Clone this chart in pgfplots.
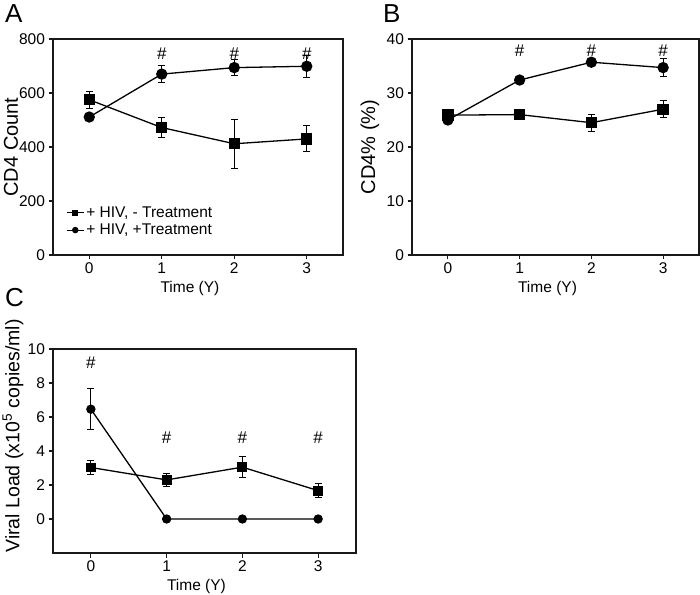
\documentclass[border=0pt]{standalone}
\usepackage{fontspec}
\setmainfont{Liberation Sans}
\usepackage{pgfplots}
\pgfplotsset{compat=1.18}
\begin{document}
\begin{tikzpicture}
\path[use as bounding box] (0,0) rectangle (700pt,594pt);
\pgfplotsset{
  panel/.style={
    scale only axis,
    axis line style={black!90, line width=1.1pt},
    tick style={black!90, line width=1.1pt},
    tick align=outside,
    major tick length=4.5pt,
    tick pos=left,
    xmin=-0.5, xmax=3.5,
    xtick={0,1,2,3},
    /pgf/number format/assume math mode=true,
    ticklabel style={font=\fontsize{15.5}{18}\selectfont},
    xlabel={Time (Y)},
    xlabel style={font=\fontsize{15.5}{18}\selectfont, at={([xshift=-8pt,yshift=-33pt]axis description cs:0.5,0)}, anchor=center},
    ylabel style={font=\fontsize{20}{22}\selectfont, at={([xshift=-42pt]axis description cs:0,0.5)}, anchor=center},
  },
  sq/.style={black, line width=1.3pt, mark=square*, mark size=#1, mark options={solid},
    error bars/.cd, y dir=both, y explicit,
    error bar style={line width=1pt},
    error mark options={rotate=90, mark size=3.5pt, line width=1pt}},
  sq/.default=5pt,
  ci/.style={black, line width=1.3pt, mark=*, mark size=#1, mark options={solid},
    error bars/.cd, y dir=both, y explicit,
    error bar style={line width=1pt},
    error mark options={rotate=90, mark size=3.5pt, line width=1pt}},
  ci/.default=5pt,
  hash/.style={draw=none, mark=none, nodes near coords={\#}, every node near coord/.style={anchor=center, font=\fontsize{17}{18}\selectfont}},
}
% Panel A
\begin{axis}[panel, at={(53pt,339pt)}, anchor=south west, width=290pt, height=216pt,
  ymin=0, ymax=800, ytick={0,200,400,600,800},
  ylabel={CD4 Count},
  legend style={draw=none, fill=none, at={(axis description cs:0.045,0.155)}, anchor=west,
    font=\fontsize{15.5}{18}\selectfont, inner sep=0pt, row sep=1pt,
    /tikz/every even column/.append style={column sep=3pt}},
  legend cell align=left,
  legend image post style={mark size=2.7pt, line width=1pt}]
\addplot[sq] coordinates {(0,575) +- (0,32) (1,472) +- (0,38) (2,412) +- (0,90) (3,430) +- (0,48)};
\addlegendentry{+ HIV, - Treatment}
\addplot[ci] coordinates {(0,511) +- (0,8) (1,670) +- (0,32) (2,694) +- (0,30) (3,699) +- (0,40)};
\addlegendentry{+ HIV, +Treatment}
\addplot[hash, forget plot] coordinates {(1,744) (2,744) (3,744)};
\end{axis}
% Panel B
\begin{axis}[panel, at={(412pt,339pt)}, anchor=south west, width=287pt, height=216pt,
  ymin=0, ymax=40, ytick={0,10,20,30,40},
  ylabel={CD4\% (\%)}]
\addplot[ci] coordinates {(0,25.0) +- (0,0.5) (1,32.4) +- (0,0.6) (2,35.7) +- (0,0.4) (3,34.7) +- (0,1.6)};
\addplot[sq] coordinates {(0,25.9) +- (0,0.6) (1,26.0) +- (0,0.9) (2,24.5) +- (0,1.6) (3,27.0) +- (0,1.6)};
\addplot[hash] coordinates {(1,37.9) (2,37.9) (3,37.9)};
\end{axis}
% Panel C
\begin{axis}[panel, at={(53pt,41pt)}, anchor=south west, width=303pt, height=204pt,
  ymin=-2, ymax=10, ytick={0,2,4,6,8,10},
  ylabel={Viral Load (x10\textsuperscript{5} copies/ml)},
  ylabel style={font=\fontsize{19.5}{22}\selectfont, at={([xshift=-40pt,yshift=15pt]axis description cs:0,0.5)}}]
\addplot[sq=4.3pt] coordinates {(0,3.03) +- (0,0.42) (1,2.30) +- (0,0.39) (2,3.05) +- (0,0.6) (3,1.67) +- (0,0.41)};
\addplot[ci=4pt] coordinates {(0,6.46) +- (0,1.2) (1,0) +- (0,0) (2,0) +- (0,0) (3,0) +- (0,0)};
\addplot[hash] coordinates {(0,9.17) (1,4.81) (2,4.81) (3,4.81)};
\end{axis}
\node[anchor=north west, inner sep=0pt, font=\fontsize{26}{28}\selectfont] at (5pt,590pt) {A};
\node[anchor=north west, inner sep=0pt, font=\fontsize{26}{28}\selectfont] at (383pt,590pt) {B};
\node[anchor=north west, inner sep=0pt, font=\fontsize{26}{28}\selectfont] at (5pt,306pt) {C};
\end{tikzpicture}
\end{document}
